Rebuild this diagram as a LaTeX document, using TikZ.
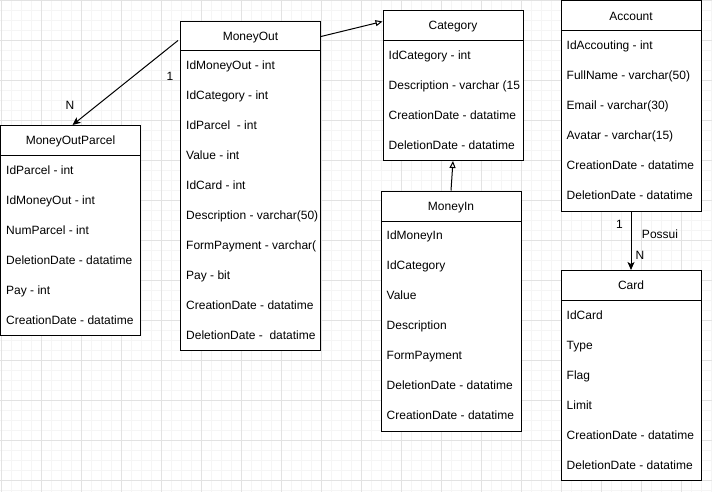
\documentclass[tikz,border=0pt]{standalone}
\usepackage{fontspec}
\setmainfont{Liberation Sans}
\usetikzlibrary{arrows.meta}
\definecolor{grade}{HTML}{E2E2E2}
\definecolor{gradefina}{HTML}{F5F5F5}
\tikzset{
  texto/.style={font=\fontsize{12}{14}\selectfont, text height=11pt, text depth=2.4pt},
  cabecalho/.style={texto, draw=black, fill=white, line width=1pt, minimum width=140pt,
    minimum height=30pt, anchor=north west, inner sep=0pt},
  corpo/.style={draw=black, fill=white, line width=1pt, minimum width=140pt,
    anchor=north west, inner sep=0pt},
  campo/.style={texto, anchor=west, inner sep=0pt},
  rotulo/.style={texto, inner sep=0pt},
  relacao/.style={draw=black, line width=1pt, -{Stealth[length=8pt,width=7pt,inset=2pt]}},
  heranca/.style={draw=black, line width=1pt, -{Triangle[open,length=7pt,width=6pt]}},
}

\begin{document}
\begin{tikzpicture}[x=1pt,y=-1pt]
  \useasboundingbox (0,0) rectangle (712,492);
  \fill[white] (0,0) rectangle (712,492);
  \foreach \x in {1,11,...,711} \draw[gradefina, line width=1pt] (\x,0) -- (\x,492);
  \foreach \y in {0.5,10.5,...,490.5} \draw[gradefina, line width=1pt] (0,\y) -- (712,\y);
  \foreach \x in {1,41,...,681} \draw[grade, line width=1pt] (\x,0) -- (\x,492);
  \foreach \y in {0.5,40.5,...,480.5} \draw[grade, line width=1pt] (0,\y) -- (712,\y);

  \node[cabecalho] (moneyout) at (180,21) {MoneyOut};
  \node[corpo, minimum height=300pt] (moneyout-corpo) at (180,50) {};
  \foreach \campo [count=\i] in {IdMoneyOut - int, IdCategory - int, IdParcel \ - int,
      Value - int, IdCard - int, Description - varchar(50), FormPayment - varchar(,
      Pay - bit, CreationDate - datatime, DeletionDate - \ datatime}
    \node[campo] (moneyout-\i) at (186,35+30*\i) {\campo};

  \node[cabecalho] (parcel) at (0,125) {MoneyOutParcel};
  \node[corpo, minimum height=180pt] (parcel-corpo) at (0,155) {};
  \foreach \campo [count=\i] in {IdParcel - int, IdMoneyOut - int, NumParcel - int,
      DeletionDate - datatime, Pay - int, CreationDate - datatime}
    \node[campo] (parcel-\i) at (6,140+30*\i) {\campo};

  \node[cabecalho] (category) at (382.5,10) {Category};
  \node[corpo, minimum height=120pt] (category-corpo) at (382.5,40) {};
  \foreach \campo [count=\i] in {IdCategory - int, Description - varchar (15,
      CreationDate - datatime, DeletionDate - datatime}
    \node[campo] (category-\i) at (388.5,25+30*\i) {\campo};

  \node[cabecalho] (moneyin) at (380.5,190.5) {MoneyIn};
  \node[corpo, minimum height=210pt] (moneyin-corpo) at (380.5,220.5) {};
  \foreach \campo [count=\i] in {IdMoneyIn, IdCategory, Value, Description,
      FormPayment, DeletionDate - datatime, CreationDate - datatime}
    \node[campo] (moneyin-\i) at (386.5,205.5+30*\i) {\campo};

  \node[cabecalho] (account) at (560.5,0.5) {Account};
  \node[corpo, minimum height=180pt] (account-corpo) at (560.5,30.5) {};
  \foreach \campo [count=\i] in {IdAccouting - int, FullName - varchar(50),
      Email - varchar(30), Avatar - varchar(15), CreationDate - datatime,
      DeletionDate - datatime}
    \node[campo] (account-\i) at (566.5,15.5+30*\i) {\campo};

  \node[cabecalho] (card) at (560.5,270) {Card};
  \node[corpo, minimum height=180pt] (card-corpo) at (560.5,300) {};
  \foreach \campo [count=\i] in {IdCard, Type, Flag, Limit,
      CreationDate - datatime, DeletionDate - datatime}
    \node[campo] (card-\i) at (566.5,285+30*\i) {\campo};

  \draw[relacao] ([shift={(-2pt,-4pt)}]moneyout.west) -- ([xshift=2pt]parcel.north);
  \draw[heranca] (moneyout.east) -- ([yshift=4pt]category.west);
  \draw[heranca] (moneyin.north) -- (category-corpo.south);
  \draw[relacao] (account-corpo.south) -- (card.north);

  \node[rotulo] (um-out) at (170,76) {1};
  \node[rotulo] (n-parcel) at (70,105) {N};
  \node[rotulo] (um-account) at (619.5,224.5) {1};
  \node[rotulo] (possui) at (660,234.5) {Possui};
  \node[rotulo] (n-card) at (640,255) {N};
\end{tikzpicture}
\end{document}
